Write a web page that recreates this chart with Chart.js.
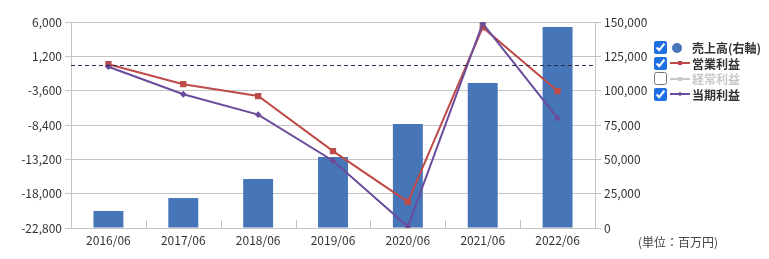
<!DOCTYPE html>
<html>
<head>
<meta charset="utf-8">
<script src="https://cdn.jsdelivr.net/npm/chart.js@4.4.0/dist/chart.umd.min.js"></script>
<style>
  body{margin:0;background:#fff;font-family:"Noto Sans CJK JP",sans-serif}
  #wrap{position:relative;width:769px;height:259px}
  #legend{position:absolute;left:654px;top:40px;font-size:12px;font-weight:bold;color:#333}
  .row{height:15.5px;display:flex;align-items:center;white-space:nowrap}
  .row input{margin:0 2px 0 0;width:13px;height:13px;accent-color:#1f6fe5}
  .ico{position:relative;width:21px;height:12px;margin-right:2px}
  .dot{position:absolute;left:3px;top:1px;width:10px;height:10px;border-radius:50%;background:#4675b8}
  .ln{position:absolute;left:1px;top:5px;width:20px;height:2px}
  .mk{position:absolute;left:9px;top:4px;width:4px;height:4px}
  .off{color:#c8c8c8}
  #unit{position:absolute;left:638px;top:233px;font-size:12px;color:#444}
</style>
</head>
<body>
<div id="wrap">
  <canvas id="myChart" width="769" height="259"></canvas>
  <div id="legend">
    <div class="row"><input type="checkbox" checked><span class="ico"><span class="dot"></span></span>売上高(右軸)</div>
    <div class="row"><input type="checkbox" checked><span class="ico"><span class="ln" style="background:#be4b48"></span><span class="mk" style="background:#be4b48"></span></span>営業利益</div>
    <div class="row off"><input type="checkbox"><span class="ico"><span class="ln" style="background:#c8c8c8"></span><span class="mk" style="background:#c8c8c8"></span></span>経常利益</div>
    <div class="row"><input type="checkbox" checked><span class="ico"><span class="ln" style="background:#6b4c9a"></span><span class="mk" style="background:#6b4c9a;transform:scale(0.8) rotate(45deg)"></span></span>当期利益</div>
  </div>
  <div id="unit">(単位：百万円)</div>
</div>
<script>
const labels = ['2016/06','2017/06','2018/06','2019/06','2020/06','2021/06','2022/06']
const sales = [12400, 21800, 35700, 51700, 75700, 105600, 146400]
const operatingProfit = [100, -2700, -4350, -12050, -19150, 5250, -3650]
const netProfit = [-250, -4100, -6950, -13400, -22600, 5800, -7450]

const font = {family: '"Noto Sans CJK JP", sans-serif', size: 12}
const gridGray = '#c4c4c4'

// dashed zero line + small inner ticks between categories
const extras = {
  id: 'extras',
  afterDatasetsDraw(chart) {
    const ctx = chart.ctx, area = chart.chartArea
    const y0 = chart.scales.y.getPixelForValue(0)
    ctx.save()
    ctx.strokeStyle = '#2e2e50'
    ctx.lineWidth = 1
    ctx.setLineDash([4, 3])
    ctx.beginPath()
    ctx.moveTo(area.left, Math.round(y0) + 0.5)
    ctx.lineTo(area.right, Math.round(y0) + 0.5)
    ctx.stroke()
    ctx.restore()
  },
  beforeDatasetsDraw(chart) {
    const ctx = chart.ctx, area = chart.chartArea, x = chart.scales.x
    ctx.save()
    ctx.strokeStyle = gridGray
    ctx.lineWidth = 1
    for (let i = 1; i < labels.length; i++) {
      const px = Math.round((x.getPixelForValue(i - 1) + x.getPixelForValue(i)) / 2) + 0.5
      ctx.beginPath()
      ctx.moveTo(px, area.bottom)
      ctx.lineTo(px, area.bottom - 8)
      ctx.stroke()
    }
    ctx.restore()
  }
}

const config = {
  data: {
    labels: labels,
    datasets: [
      {type: 'line', label: '営業利益', data: operatingProfit, yAxisID: 'y', order: 1,
       borderColor: '#be4b48', backgroundColor: '#be4b48', borderWidth: 2,
       pointStyle: 'rect', pointRadius: 3, tension: 0},
      {type: 'line', label: '当期利益', data: netProfit, yAxisID: 'y', order: 0,
       borderColor: '#6b4c9a', backgroundColor: '#6b4c9a', borderWidth: 2,
       pointStyle: 'rectRot', pointRadius: 2, tension: 0},
      {type: 'bar', label: '売上高(右軸)', data: sales, yAxisID: 'y1', order: 2,
       backgroundColor: '#4675b8', barPercentage: 0.4, categoryPercentage: 1}
    ]
  },
  options: {
    responsive: false,
    animation: false,
    layout: {padding: {top: 22, right: 109, bottom: 0, left: 0}},
    plugins: {legend: {display: false}, tooltip: {enabled: false}},
    scales: {
      x: {
        offset: true,
        grid: {display: false, drawTicks: false},
        border: {color: gridGray},
        ticks: {font: font, color: '#333', padding: 5, maxRotation: 0},
        afterFit(s) { s.height = 31 }
      },
      y: {
        position: 'left', min: -22800, max: 6000,
        ticks: {stepSize: 4800, font: font, color: '#333', padding: 3},
        grid: {color: gridGray, tickLength: 6},
        border: {color: gridGray},
        afterFit(s) { s.width = 71 }
      },
      y1: {
        position: 'right', min: 0, max: 150000,
        ticks: {stepSize: 25000, font: font, color: '#333', padding: 3},
        grid: {drawOnChartArea: false, color: gridGray, tickLength: 6},
        border: {color: gridGray},
        afterFit(s) { s.width = 65 }
      }
    }
  },
  plugins: [extras]
}

var myChart = new Chart('myChart', config)
</script>
</body>
</html>
